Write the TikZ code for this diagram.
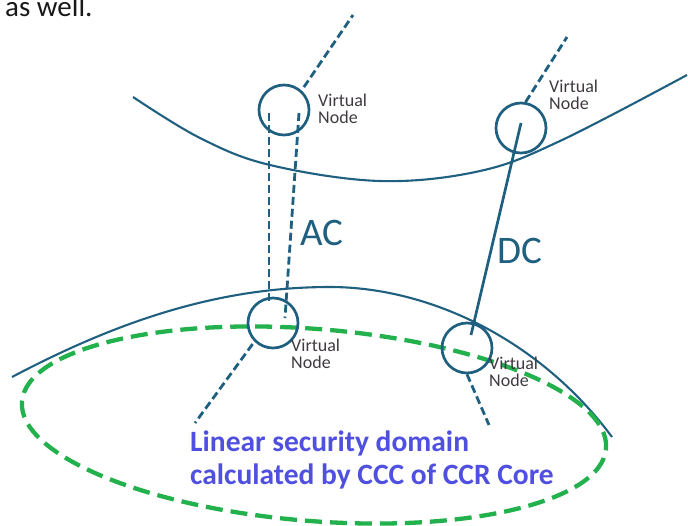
\documentclass[tikz,border=0pt]{standalone}
\usepackage{fontspec}
\setmainfont{Carlito}
\usetikzlibrary{calc}
\definecolor{linkblue}{RGB}{31,96,128}
\definecolor{domgreen}{RGB}{34,177,76}
\definecolor{textblue}{RGB}{80,80,224}
\definecolor{vngrey}{RGB}{64,58,64}
\tikzset{
	vnode/.style={circle, draw=linkblue, line width=2.7pt, minimum size=50pt, inner sep=0pt},
	vlabel/.style={font=\fontsize{18}{17}\selectfont, text=vngrey, align=left, inner sep=0pt, anchor=north west},
	vlink/.style={draw=linkblue, line width=2.8pt, dash pattern=on 8pt off 4pt},
	bigtag/.style={font=\fontsize{39}{40}\selectfont, text=linkblue, anchor=base west, inner sep=0pt},
	corearc/.style={draw=linkblue, line width=2.1pt},
	secdomain/.style={draw=domgreen, line width=4.3pt, dash pattern=on 17pt off 8pt}
}
\begin{document}
\begin{tikzpicture}[x=1pt, y=-1pt]
	\useasboundingbox (0,0) rectangle (688,525);
	\node[anchor=base west, inner sep=0pt, text=black!90, font=\fontsize{29}{33}\selectfont] (intro) at (5,16.5) {as well.};
	% domains
	\draw[corearc] plot[smooth, tension=0.6] coordinates {(133,97) (200,138) (270,165) (380,181) (480,171) (560,141) (687,75)};
	\draw[corearc] (12,377) .. controls (120,320) and (220,287) .. (330,287)
		.. controls (430,287) and (540,340) .. (612,437);
	\draw[secdomain, rotate around={-4.6:(314,425)}] (314,425) ellipse [x radius=293pt, y radius=96pt];
	% virtual nodes
	\node[vnode] (vn1) at (284,110) {};
	\node[vnode] (vn2) at (521,128) {};
	\node[vnode] (vn3) at (273,323) {};
	\node[vnode] (vn4) at (467,348) {};
	\node[vlabel] (lab1) at (318,94) {Virtual\\Node};
	\node[vlabel] (lab2) at (549,80) {Virtual\\Node};
	\node[vlabel] (lab3) at (291,339) {Virtual\\Node};
	\node[vlabel] (lab4) at (489,357) {Virtual\\Node};
	% outer links
	\coordinate (up1) at (353,15);
	\coordinate (up2) at (567,37);
	\coordinate (dn3) at (195,423);
	\coordinate (dn4) at (489,425);
	\draw[vlink, shorten <=4pt] (vn1.48) -- (up1);
	\draw[vlink] (vn2.80) -- (up2);
	\draw[vlink, shorten <=3pt] (vn3.225) -- (dn3);
	\draw[vlink] (vn4.south) -- (dn4);
	% AC
	\draw[vlink] ($(vn1)+(-15,3)$) -- ($(vn3)+(-4,-20)$);
	\draw[vlink] ($(vn1)+(15,3)$) -- ($(vn3)+(12,-5)$);
	\node[bigtag] (ac) at (300,245) {AC};
	% DC
	\draw[draw=linkblue, line width=2.7pt] ($(vn2)+(0,-5)$) -- ($(vn4)+(4,-13)$);
	\node[bigtag] (dc) at (497,263) {DC};
	\node[anchor=north west, inner sep=0pt, align=left, text=textblue, font=\bfseries\fontsize{29.5}{33}\selectfont] (note) at (190,431) {Linear security domain\\calculated by CCC of CCR Core};
\end{tikzpicture}
\end{document}
